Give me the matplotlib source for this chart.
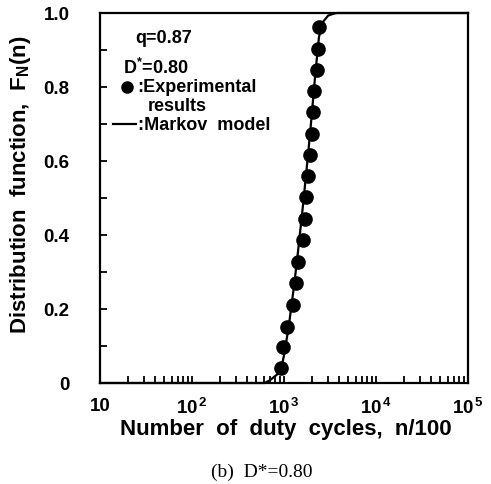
import numpy as np
import matplotlib
matplotlib.use('Agg')
import matplotlib.pyplot as plt
from matplotlib.ticker import FixedLocator, LogLocator, NullFormatter

plt.rcParams['font.family'] = ['Liberation Sans', 'DejaVu Sans']
plt.rcParams['font.weight'] = 'bold'
plt.rcParams['axes.labelweight'] = 'bold'
plt.rcParams['mathtext.fontset'] = 'custom'
plt.rcParams['mathtext.rm'] = 'Liberation Sans:bold'
plt.rcParams['mathtext.it'] = 'Liberation Sans:bold'
plt.rcParams['mathtext.bf'] = 'Liberation Sans:bold'
plt.rcParams['mathtext.default'] = 'rm'

# experimental points (n/100, F_N(n))
exp_n = [921, 983, 1069, 1262, 1340, 1409, 1622, 1690, 1720, 1837, 1918, 2000, 2053, 2120, 2298, 2350, 2400]
exp_F = [0.041, 0.096, 0.152, 0.211, 0.269, 0.326, 0.386, 0.443, 0.503, 0.560, 0.617, 0.673, 0.732, 0.790, 0.846, 0.903, 0.961]

# Markov model curve
model_n = [10, 617, 708, 794, 891, 945, 1000, 1122, 1259, 1384, 1585, 1824, 1995, 2188, 2399, 2630, 3020, 3548, 3800, 100000]
model_F = [0.0, 0.0, 0.008, 0.018, 0.028, 0.045, 0.075, 0.15, 0.245, 0.33, 0.465, 0.616, 0.72, 0.835, 0.935, 0.975, 0.993, 0.999, 1.0, 1.0]

x_ticks = [10, 100, 1000, 10000, 100000]
x_ticklabels = ['10', '10$^{\\,2}$', '10$^{\\,3}$', '10$^{\\,4}$', '10$^{\\,5}$']
y_ticks = [0, 0.2, 0.4, 0.6, 0.8, 1.0]
y_ticklabels = ['0', '0.2', '0.4', '0.6', '0.8', '1.0']

fig = plt.figure(figsize=(4.91, 4.85), dpi=100)
ax = fig.add_axes([100 / 491, 1 - 384 / 485, 368 / 491, 370 / 485])

ax.plot(model_n, model_F, color='black', lw=1.6, clip_on=False, zorder=3)
ax.plot(exp_n, exp_F, 'o', color='black', ms=9.5, zorder=4)

ax.set_xscale('log')
ax.set_xlim(10, 1e5)
ax.set_ylim(0, 1.0)

ax.xaxis.set_major_locator(FixedLocator(x_ticks))
ax.set_xticklabels(x_ticklabels)
ax.xaxis.set_minor_locator(LogLocator(base=10, subs=np.arange(2, 10)))
ax.xaxis.set_minor_formatter(NullFormatter())
ax.yaxis.set_major_locator(FixedLocator(y_ticks))
ax.set_yticklabels(y_ticklabels)
ax.yaxis.set_minor_locator(FixedLocator([0.1, 0.3, 0.5, 0.7, 0.9]))

for s in ax.spines.values():
    s.set_linewidth(1.6)

ax.tick_params(axis='x', which='both', direction='in', top=False, length=5, width=1.3,
               labelsize=13.5, pad=10)
ax.tick_params(axis='y', which='both', direction='in', right=False, length=5, width=1.3,
               labelsize=13.5, pad=22)

ax.set_xlabel('Number  of  duty  cycles,  n/100', fontsize=16, va='center')
ax.xaxis.set_label_coords(0.505, -0.124)
ax.set_ylabel('Distribution  function,  F$_{N}$(n)', fontsize=16, va='center')
ax.yaxis.set_label_coords(-0.215, 0.538)

# in-plot key
tr = ax.transAxes
ax.text(0.0951, 0.935, 'q=0.87', fontsize=13, va='center', transform=tr)
ax.text(0.0625, 0.854, 'D$^{*}$=0.80', fontsize=13, va='center', transform=tr)
ax.plot([0.0734], [0.80], 'o', color='black', ms=8, transform=tr)
ax.text(0.1005, 0.80, ':Experimental', fontsize=13, va='center', transform=tr)
ax.text(0.1304, 0.751, 'results', fontsize=13, va='center', transform=tr)
ax.plot([0.035, 0.098], [0.70, 0.70], color='black', lw=1.6, transform=tr)
ax.text(0.1033, 0.70, ':Markov  model', fontsize=13, va='center', transform=tr)

fig.text(262 / 491, 1 - 472 / 485, '(b)  D*=0.80', fontsize=14, ha='center', va='center',
         family='Liberation Serif', weight='normal')

fig.savefig('out.png', dpi=100)
